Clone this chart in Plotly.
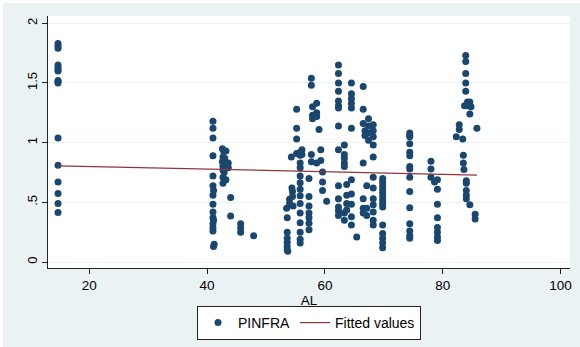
import plotly.graph_objects as go

# ---- data ----
al_c1 = [14.7] * 16
pinfra_c1 = [1.83, 1.81, 1.79, 1.65, 1.63, 1.61, 1.60, 1.52, 1.51, 1.50, 1.04, 0.81, 0.67, 0.575, 0.49, 0.415]

al_c2 = [41.0, 41.0, 41.0, 41.0, 41.0, 41.0, 41.1, 41.0, 41.0, 41.0, 41.0, 41.1, 41.0, 41.0, 41.0, 41.2, 41.1]
pinfra_c2 = [1.18, 1.12, 1.04, 0.89, 0.72, 0.64, 0.60, 0.56, 0.485, 0.42, 0.37, 0.35, 0.32, 0.285, 0.26, 0.15, 0.13]

al_c3 = [42.6, 42.8, 43.2, 42.7, 43.0, 42.6, 43.6, 42.7, 43.2, 43.6, 42.7, 42.9, 42.7, 43.2, 42.7,
         44.0, 44.0, 45.7, 45.7, 45.7, 47.9]
pinfra_c3 = [0.95, 0.93, 0.93, 0.88, 0.87, 0.84, 0.83, 0.80, 0.79, 0.79, 0.77, 0.75, 0.71, 0.69, 0.66,
             0.54, 0.385, 0.32, 0.285, 0.25, 0.22]

al_c4 = [53.5, 53.6, 53.6, 53.6, 53.6, 53.6, 53.6, 53.7,
         54.0, 54.0, 54.4, 54.5, 54.5, 54.6, 54.3,
         55.2, 55.2, 55.2, 55.2,
         55.8, 55.8, 55.8, 55.8, 55.8, 55.8, 55.8, 55.8, 55.8, 55.8, 55.8, 55.8, 55.8, 55.8,
         56.1, 56.1]
pinfra_c4 = [0.45, 0.37, 0.25, 0.20, 0.165, 0.13, 0.10, 0.09,
             0.525, 0.49, 0.62, 0.59, 0.55, 0.47, 0.88,
             1.28, 1.12, 1.03, 0.91,
             0.92, 0.895, 0.83, 0.79, 0.72, 0.665, 0.61, 0.555, 0.49, 0.41, 0.33, 0.25, 0.19, 0.16,
             0.94, 0.90]

al_c5 = [57.3, 57.3, 57.3, 57.3, 57.3, 57.3, 57.3,
         57.7, 57.7, 57.7, 57.7,
         57.9, 57.9, 57.9,
         58.6, 58.6, 58.6, 58.6,
         59.0, 59.3, 59.3, 59.6, 59.6, 59.6, 60.3]
pinfra_c5 = [0.70, 0.55, 0.47, 0.41, 0.37, 0.325, 0.27,
             1.54, 1.48, 0.90, 0.84,
             1.30, 1.23, 1.20,
             1.33, 1.25, 1.22, 0.83,
             1.11, 0.94, 0.85, 0.755, 0.67, 0.60, 0.51]

al_c6 = [62.3] * 14 + [63.3] * 7 + [63.7] * 4 + [64.5] * 11 + [65.4]
pinfra_c6 = [1.65, 1.58, 1.50, 1.43, 1.35, 1.31, 1.29, 1.14, 0.94, 0.64, 0.53, 0.46, 0.43, 0.39,
             0.98, 0.90, 0.87, 0.83, 0.80, 0.41, 0.35,
             0.65, 0.56, 0.49, 0.435,
             1.50, 1.41, 1.37, 1.33, 1.29, 1.12, 0.69, 0.57, 0.485, 0.38, 0.31,
             0.21]

al_c7 = [66.5] * 7 + [67.1] * 3 + [66.8] * 2 + [67.4] * 4 + [68.2] * 12 + [69.8] * 14
pinfra_c7 = [1.47, 1.28, 1.16, 0.83, 0.53, 0.45, 0.41,
             0.64, 0.45, 0.39,
             1.10, 1.06,
             1.20, 1.14, 1.08, 1.02,
             1.15, 1.10, 1.05, 0.98, 0.88, 0.71, 0.62, 0.53, 0.48, 0.42, 0.35, 0.31,
             0.70, 0.67, 0.64, 0.61, 0.58, 0.55, 0.52, 0.49, 0.46, 0.31, 0.24, 0.20, 0.16, 0.12]

al_c8 = [74.4] * 15
pinfra_c8 = [1.08, 1.06, 1.05, 0.99, 0.92, 0.89, 0.80, 0.78, 0.71, 0.59, 0.455, 0.32, 0.26, 0.22, 0.20]

al_c9 = [78.0, 78.0, 78.0, 78.6, 79.1, 79.1, 79.1, 79.1, 79.1, 79.1, 79.1, 79.1]
pinfra_c9 = [0.845, 0.78, 0.71, 0.67, 0.69, 0.61, 0.485, 0.37, 0.29, 0.25, 0.21, 0.18]

al_c10 = [83.9, 83.9, 83.9, 83.9, 83.9, 84.2, 84.2, 84.6, 84.6, 83.7, 84.8, 82.8, 82.8, 82.3, 83.4, 85.8,
          83.5, 83.5, 83.6, 84.0, 84.0, 84.0, 84.0, 84.0, 84.6, 85.5, 85.5]
pinfra_c10 = [1.73, 1.68, 1.58, 1.50, 1.43, 1.34, 1.31, 1.34, 1.24, 1.31, 1.30, 1.15, 1.11, 1.05, 1.03, 1.12,
              0.895, 0.83, 0.775, 0.68, 0.66, 0.60, 0.56, 0.53, 0.48, 0.40, 0.36]

fit_al = [14.7, 85.8]
fit_pinfra = [0.806, 0.728]

x_ticks = [20, 40, 60, 80, 100]
y_ticks = [0, 0.5, 1, 1.5, 2]
y_tick_text = ["0", ".5", "1", "1.5", "2"]

al = al_c1 + al_c2 + al_c3 + al_c4 + al_c5 + al_c6 + al_c7 + al_c8 + al_c9 + al_c10
pinfra = (pinfra_c1 + pinfra_c2 + pinfra_c3 + pinfra_c4 + pinfra_c5 + pinfra_c6
          + pinfra_c7 + pinfra_c8 + pinfra_c9 + pinfra_c10)

BG = "#eaf2f3"
FONT = "Liberation Sans, Arial, sans-serif"

fig = go.Figure()
fig.add_trace(go.Scatter(
    x=al, y=pinfra, mode="markers", name="PINFRA",
    marker=dict(color="#1a476f", size=7, line=dict(width=0)),
))
fig.add_trace(go.Scatter(
    x=fit_al, y=fit_pinfra, mode="lines", name="Fitted values",
    line=dict(color="#90353b", width=1.2),
))

W, H = 580, 347
L, R, T, B = 48, 10, 16, 79
pw, ph = W - L - R, H - T - B

def px2paper_x(p):
    return (p - L) / pw

def px2paper_y(p):
    return (H - B - p) / ph

shapes = [
    dict(type="rect", xref="paper", yref="paper", layer="above",
         x0=px2paper_x(0), x1=px2paper_x(W), y0=px2paper_y(0), y1=px2paper_y(3),
         fillcolor="white", line=dict(width=0)),
    dict(type="rect", xref="paper", yref="paper", layer="above",
         x0=px2paper_x(0), x1=px2paper_x(3), y0=px2paper_y(0), y1=px2paper_y(H),
         fillcolor="white", line=dict(width=0)),
]

fig.update_layout(
    width=W, height=H,
    margin=dict(l=L, r=R, t=T, b=B, autoexpand=False),
    paper_bgcolor=BG, plot_bgcolor="white",
    font=dict(family=FONT, size=13, color="black"),
    showlegend=True,
    legend=dict(
        orientation="h", x=0.5, xanchor="center", y=px2paper_y(306), yanchor="top",
        bgcolor="white", bordercolor="#222", borderwidth=1,
        font=dict(size=14), itemwidth=30,
    ),
    shapes=shapes,
    xaxis=dict(
        range=[13.0, 101.6], tickvals=x_ticks, ticks="outside", ticklen=5,
        tickcolor="#222", showline=True, linecolor="#222", linewidth=1,
        showgrid=False, zeroline=False, tickfont=dict(size=13.5),
        title=dict(text="AL", font=dict(size=13.5), standoff=0),
    ),
    yaxis=dict(
        range=[-0.05, 2.061], tickvals=y_ticks, ticktext=y_tick_text,
        ticks="outside", ticklen=5, tickcolor="#222", tickangle=-90,
        showline=True, linecolor="#222", linewidth=1,
        showgrid=True, gridcolor=BG, gridwidth=1, zeroline=False,
        tickfont=dict(size=13),
    ),
)

fig.write_html("out.html", config={"displayModeBar": False},
               post_script="document.body.style.margin='0';")
